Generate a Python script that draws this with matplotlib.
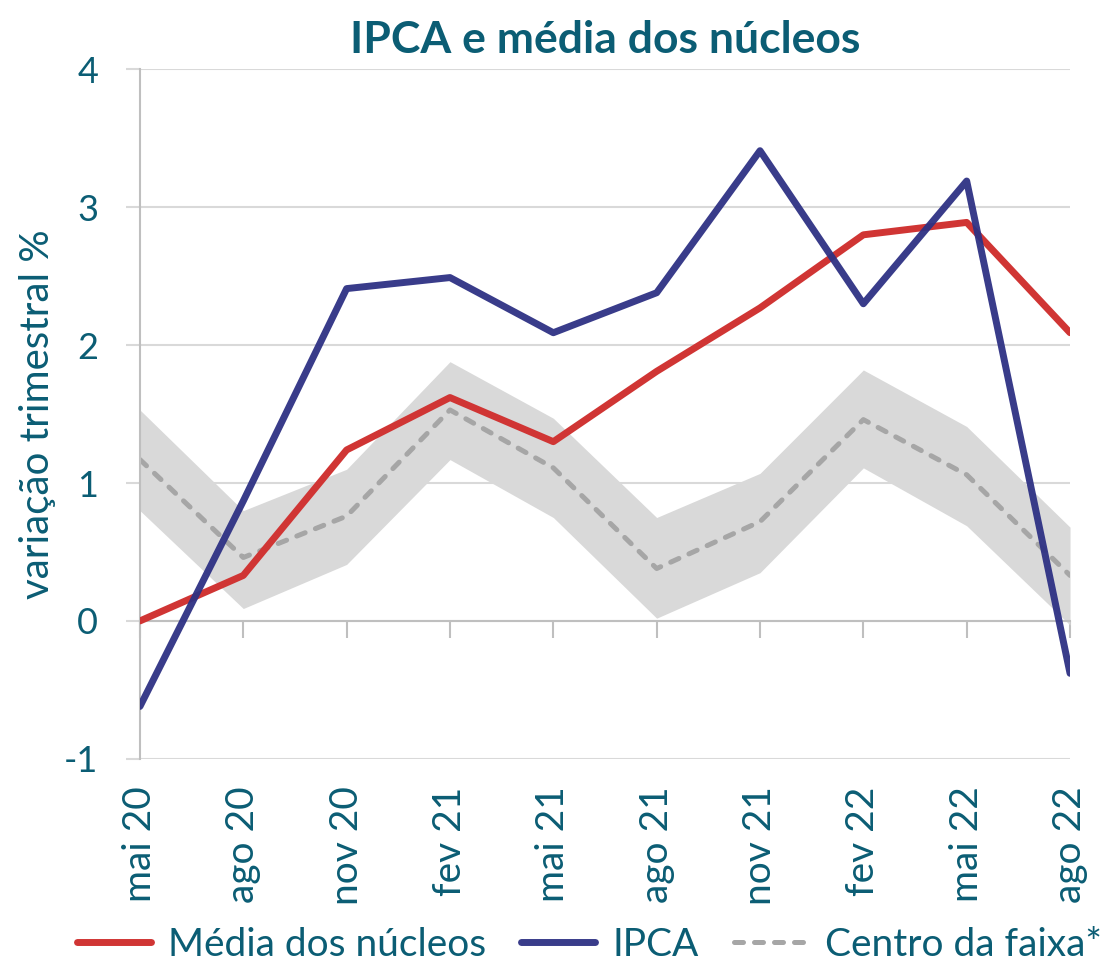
import matplotlib.pyplot as plt

plt.rcParams['font.family'] = ['Lato', 'DejaVu Sans']
plt.rcParams['axes.unicode_minus'] = False

TEXT = '#0B5D74'
GRID = '#D9D9D9'

meses = ['mai 20', 'ago 20', 'nov 20', 'fev 21', 'mai 21',
         'ago 21', 'nov 21', 'fev 22', 'mai 22', 'ago 22']
media_nucleos = [0.00, 0.33, 1.24, 1.62, 1.30, 1.81, 2.27, 2.80, 2.89, 2.09]
ipca = [-0.62, 0.87, 2.41, 2.49, 2.09, 2.38, 3.41, 2.30, 3.19, -0.38]
centro_faixa = [1.17, 0.46, 0.76, 1.53, 1.11, 0.38, 0.72, 1.46, 1.06, 0.33]
faixa_sup = [1.53, 0.80, 1.10, 1.88, 1.47, 0.75, 1.07, 1.82, 1.41, 0.68]
faixa_inf = [0.80, 0.09, 0.41, 1.17, 0.75, 0.02, 0.35, 1.11, 0.69, -0.03]

x = list(range(len(meses)))

fig = plt.figure(figsize=(11.02, 9.63), dpi=100)
ax = fig.add_axes([0.127, 0.212, 0.844, 0.716])

ax.fill_between(x, faixa_inf, faixa_sup, color=GRID, linewidth=0, zorder=1)
ax.plot(x, centro_faixa, color='#A6A6A6', linewidth=3.6, linestyle=(0, (1.8, 2.2)),
        dash_capstyle='round', label='Centro da faixa*', zorder=2)
ax.plot(x, media_nucleos, color='#D03534', linewidth=5, solid_capstyle='round',
        label='Média dos núcleos', zorder=3)
ax.plot(x, ipca, color='#2E3184', linewidth=5, solid_capstyle='round',
        alpha=0.95, label='IPCA', zorder=4)

ax.set_xlim(0, len(meses) - 1)
ax.set_ylim(-1, 4)
ax.set_yticks(range(-1, 5))
ax.yaxis.grid(True, color=GRID, linewidth=1.5)
ax.set_axisbelow(True)
ax.tick_params(axis='y', colors=GRID, length=10, width=1.5, labelsize=26,
               labelcolor=TEXT, pad=20)
ax.set_ylabel('variação trimestral %', fontsize=29, color=TEXT, labelpad=6)

# category axis sits on y=0, labels go below the plot
for side in ['top', 'right']:
    ax.spines[side].set_visible(False)
ax.spines['left'].set_color('#BFBFBF')
ax.spines['left'].set_linewidth(1.5)
ax.spines['bottom'].set_position(('data', 0))
ax.spines['bottom'].set_color('#BFBFBF')
ax.spines['bottom'].set_linewidth(1.5)
ax.set_xticks(x)
ax.set_xticklabels([])
ax.tick_params(axis='x', direction='out', length=12, width=1.5, colors='#BFBFBF')

sec = ax.secondary_xaxis('bottom')
sec.set_xticks(x)
sec.set_xticklabels(meses, rotation=90, fontsize=28, color=TEXT)
sec.tick_params(length=0, pad=20)
sec.spines['bottom'].set_visible(False)

ax.set_title('IPCA e média dos núcleos', fontsize=32, fontweight='bold',
             color=TEXT, pad=12)

handles, labels = ax.get_legend_handles_labels()
order = [1, 2, 0]
fig.legend([handles[i] for i in order], [labels[i] for i in order],
           loc='center', bbox_to_anchor=(0.535, 0.019), ncol=3,
           frameon=False, fontsize=28, labelcolor=TEXT, handlelength=1.9,
           handletextpad=0.45, columnspacing=0.9)

fig.savefig('out.png', dpi=100)
